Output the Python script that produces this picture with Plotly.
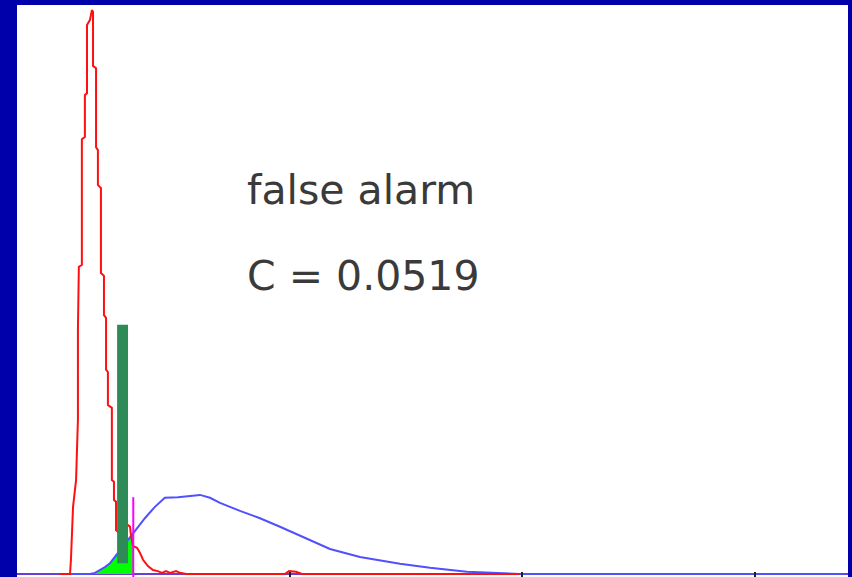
import numpy as np
import plotly.graph_objects as go

# Noise (red) distribution, sampled
noise_x = [0.011, 0.054, 0.058, 0.062, 0.067, 0.080, 0.088, 0.088, 0.092, 0.105,
           0.105, 0.118, 0.118, 0.127, 0.127, 0.140, 0.148, 0.153, 0.153, 0.166,
           0.166, 0.174, 0.174, 0.187, 0.187, 0.200, 0.200, 0.209, 0.209, 0.217,
           0.217, 0.234, 0.234, 0.243, 0.243, 0.252, 0.252, 0.277, 0.303, 0.312,
           0.316, 0.325, 0.342, 0.355, 0.368, 0.389, 0.411, 0.432, 0.449, 0.467,
           0.484, 0.510, 0.527, 0.553, 0.978, 0.996, 1.026, 1.052, 1.989]
noise_y = [0.00, 0.00, 0.25, 0.60, 1.18, 1.65, 2.71, 4.29, 5.40, 5.43,
           7.64, 7.68, 8.42, 8.45, 9.65, 9.74, 9.91, 9.88, 8.93, 8.89,
           7.50, 7.45, 6.84, 6.78, 5.29, 5.24, 4.55, 4.50, 3.59, 3.55,
           2.97, 2.92, 1.65, 1.62, 1.30, 1.27, 0.77, 0.69, 0.86, 0.83,
           0.69, 0.49, 0.46, 0.37, 0.25, 0.14, 0.07, 0.05, 0.02, 0.05,
           0.02, 0.05, 0.02, 0.00, 0.00, 0.05, 0.04, 0.00, 0.00]

# Signal (blue) distribution
signal_x = [0.011, 0.140, 0.161, 0.183, 0.204, 0.226, 0.247, 0.269, 0.303, 0.325,
            0.376, 0.419, 0.462, 0.518, 0.570, 0.613, 0.656, 0.699, 0.785, 0.871,
            0.957, 1.043, 1.172, 1.301, 1.473, 1.602, 1.761, 1.989, 3.387]
signal_y = [0.00, 0.00, 0.02, 0.07, 0.12, 0.19, 0.30, 0.42, 0.60, 0.72,
            0.98, 1.18, 1.34, 1.35, 1.37, 1.39, 1.34, 1.25, 1.11, 0.98,
            0.83, 0.67, 0.44, 0.30, 0.18, 0.11, 0.04, 0.00, 0.00]

# Criterion and false-alarm bar
criterion_x = 0.326
criterion_top = 1.35
bar_center = 0.280
bar_width = 0.047
bar_base = 0.19
bar_top = 4.38
fill_start = 0.140

label_lines = ["false alarm", "C = 0.0519"]
tick_values = [1, 2, 3]

fig = go.Figure()

# shaded tail of the signal curve left of the criterion
sx = np.array(signal_x)
sy = np.array(signal_y)
mask = (sx >= fill_start) & (sx < criterion_x)
fx = np.concatenate([sx[mask], [criterion_x]])
fy = np.concatenate([sy[mask], [np.interp(criterion_x, sx, sy)]])
fig.add_trace(go.Scatter(x=fx, y=fy, mode="lines", fill="tozeroy",
                         fillcolor="#00ff00", line=dict(width=0),
                         hoverinfo="skip", showlegend=False))

fig.add_trace(go.Scatter(x=signal_x, y=signal_y, mode="lines",
                         line=dict(color="rgb(80,80,255)", width=2),
                         showlegend=False))
fig.add_trace(go.Scatter(x=noise_x, y=noise_y, mode="lines",
                         line=dict(color="#ff1010", width=2),
                         showlegend=False))

# false-alarm bar drawn as a filled rectangle so it sits above the curves
x0, x1 = bar_center - bar_width / 2, bar_center + bar_width / 2
fig.add_trace(go.Scatter(x=[x0, x1, x1, x0, x0],
                         y=[bar_base, bar_base, bar_top, bar_top, bar_base],
                         mode="lines", fill="toself", fillcolor="#2e8b57",
                         line=dict(width=0), hoverinfo="skip", showlegend=False))

# criterion marker
fig.add_trace(go.Scatter(x=[criterion_x, criterion_x], y=[-0.06, criterion_top],
                         mode="lines", line=dict(color="#ff00ff", width=2),
                         showlegend=False))

for text, ypos in zip(label_lines, [0.677, 0.527]):
    fig.add_annotation(x=0.274, y=ypos, xref="paper", yref="paper",
                       text=text, showarrow=False, xanchor="left",
                       yanchor="middle",
                       font=dict(family="DejaVu Sans", size=41, color="#3a3a3a"))

fig.update_layout(
    width=852, height=577,
    margin=dict(l=17, r=4, t=5, b=0),
    paper_bgcolor="#0000aa",
    plot_bgcolor="white",
    showlegend=False,
)
fig.update_xaxes(range=[-0.174, 3.40], showgrid=False, zeroline=False,
                 showline=False, tickvals=tick_values, ticks="inside",
                 ticklen=5, tickwidth=2, tickcolor="#202020",
                 showticklabels=False)
fig.update_yaxes(range=[-0.053, 10.0], showgrid=False, zeroline=True,
                 zerolinecolor="#6a3dd6", zerolinewidth=2,
                 showline=False, showticklabels=False, ticks="")

fig.write_html("out.html")
